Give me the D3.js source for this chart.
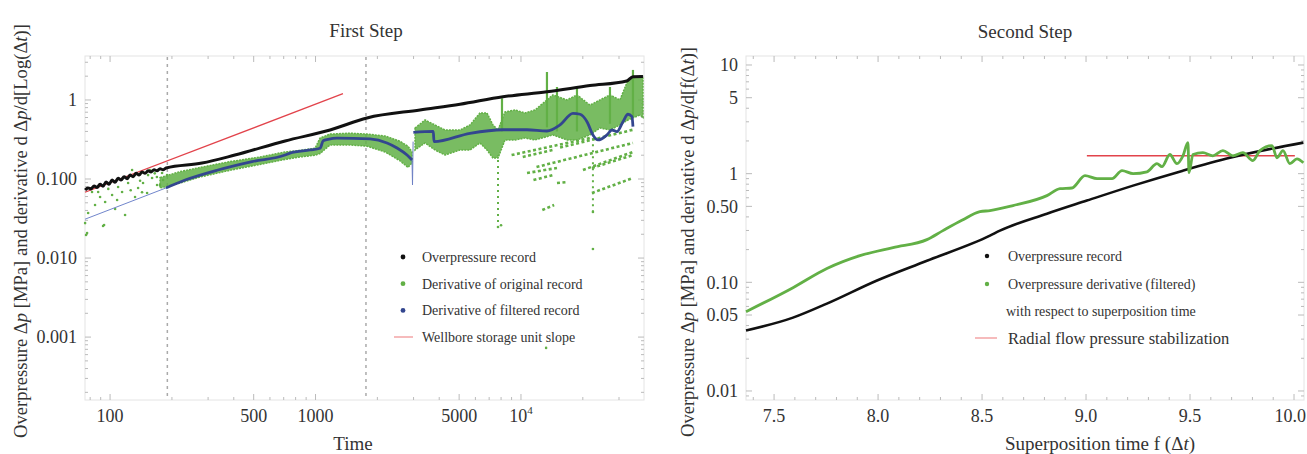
<!DOCTYPE html>
<html>
<head>
<meta charset="utf-8">
<script src="https://cdn.jsdelivr.net/npm/d3@7"></script>
<style>
body { margin: 0; background: #fff; }
text { font-family: "Liberation Serif", "Times New Roman", serif; fill: #333; }
</style>
</head>
<body>
<script>
// ---- First step (log-log diagnostic) ----
var blackRec = [[75.6,0.0726],[78.2,0.0769],[80.8,0.075],[83.6,0.0816],[86.4,0.078],[89.4,0.086],[92.4,0.081],
  [95.6,0.0916],[98.9,0.086],[102.3,0.0971],[105.8,0.091],[109.4,0.102],[113.1,0.097],[117,0.107],[121,0.101],
  [125.1,0.112],[129.4,0.107],[133.9,0.118],[138.4,0.112],[143.1,0.123],[148,0.118],[153.1,0.127],[158.3,0.123],
  [163.7,0.131],[169.3,0.127],[175.1,0.135],[181.1,0.131],[187.3,0.138],[280,0.159],[405,0.201],[711,0.303],
  [1177,0.417],[1781,0.592],[3225,0.747],[5050,0.882],[8170,1.10],[13380,1.27],[21670,1.52],[32700,1.74],
  [35080,1.97],[39240,1.98]];

var blueThin = [[75.5,0.031],[187,0.077]];
var blueSpike = [[2949,0.174],[2965,0.084],[2985,0.297]];
var blueThickA = [[187,0.077],[232,0.097],[335,0.130],[491,0.166],[711,0.201],[751,0.213],[940,0.233],
  [1052,0.245],[1090,0.305],[1150,0.318],[1272,0.330],[1841,0.321],[2228,0.286],[2493,0.247],[2789,0.201],[2949,0.174]];
var blueThickB = [[2993,0.39],[3742,0.40],[3773,0.297],[5647,0.379],[8170,0.42],[10690,0.42],[13380,0.405],
  [15480,0.483],[17910,0.678],[19380,0.66],[20960,0.531],[22400,0.361],[23710,0.312],[26200,0.361],[27710,0.417],
  [29320,0.397],[31360,0.531],[33170,0.66],[34690,0.615],[35080,0.459]];

var greenEarly = [[75.6,0.0277],[76.4,0.0196],[77.3,0.0207],[78.2,0.0372],[81.7,0.0685],[84.5,0.0469],[87.5,0.0685],
  [89.4,0.0592],[92.4,0.0254],[93.5,0.0262],[94.6,0.0511],[102.3,0.0627],[105.8,0.0417],[108.2,0.0542],[109.4,0.0792],
  [114.4,0.0685],[118.3,0.035],[122.4,0.089],[128,0.13],[132.3,0.0592],[136.9,0.0769],[143.1,0.068],[144.7,0.089],
  [151.4,0.0665],[153.1,0.112],[156.5,0.13],[160.1,0.103],[169,0.106],[169.3,0.0839],[175,0.0839],[179.1,0.119],
  [181.1,0.0971],[189.4,0.112],[98,0.075],[126,0.072],[140,0.095],[165,0.118]];
// [time, low, high] envelope of the dense cloud
var greenBandA = [[175,0.077,0.104],[219,0.089,0.124],[274,0.106,0.140],[384,0.129,0.166],[537,0.153,0.190],
  [711,0.177,0.220],[841,0.190,0.230],[995,0.200,0.245],[1052,0.210,0.330],[1177,0.270,0.370],[1472,0.270,0.380],
  [1781,0.260,0.370],[2179,0.220,0.350],[2578,0.170,0.300],[2819,0.140,0.260],[2949,0.160,0.220]];
var greenBandB = [[3050,0.233,0.442],[3411,0.286,0.558],[3815,0.233,0.483],[4267,0.201,0.417],[5050,0.233,0.417],
  [5647,0.233,0.483],[6317,0.286,0.685],[6831,0.233,0.685],[7307,0.184,0.483],[7730,0.184,0.417],[8358,0.312,0.705],
  [9350,0.312,0.747],[10460,0.33,0.685],[11700,0.312,0.747],[14310,0.361,1.16],[16740,0.312,1.0],[18730,0.312,1.16],
  [21670,0.361,0.86],[24230,0.442,1.0],[27110,0.417,1.16],[30300,0.483,1.0],[33170,0.558,1.79],[37940,0.646,2.0],
  [39240,0.6,1.9]];
var greenSpikes = [[8083,0.4,1.05],[13380,0.45,2.26],[14970,0.4,1.46],[18730,0.4,1.42],[27110,0.5,1.46],[35080,0.6,2.4]];
var greenColumns = [[7730,0.024,0.2],[22400,0.038,0.33]];
var greenStreaks = [[9000,0.201,21670,0.33],[10700,0.119,14970,0.138],[20030,0.13,35080,0.22],[22150,0.0665,35080,0.103],
  [12700,0.0405,14500,0.0469],[11900,0.142,35080,0.286],[10200,0.19,14300,0.233],[11500,0.097,14300,0.112],
  [14970,0.089,16500,0.091],[22150,0.138,35080,0.201],[15500,0.25,35080,0.42]];
var greenDots = [[7730,0.0247],[22400,0.013],[13250,0.00073],[22400,0.0382],[8000,0.026]];
var wellbore = [[75.5,0.068],[1360,1.2]];
var dashedTimes = [190, 1760];

var xTicks1 = [100, 500, 1000, 5000, 10000];
var xLabels1 = ["100", "500", "1000", "5000", "10^4"];
var yTicks1 = [0.001, 0.01, 0.1, 1];
var yLabels1 = ["0.001", "0.010", "0.100", "1"];

// ---- Second step (superposition time) ----
var blackSup = [[7.365,0.036],[7.591,0.0473],[7.754,0.0637],[7.995,0.104],[8.235,0.158],[8.538,0.269],[8.586,0.299],
  [8.812,0.428],[9.004,0.565],[9.226,0.776],[9.466,1.066],[9.692,1.40],[10.045,1.93]];
var greenSup = [[7.365,0.0537],[7.591,0.0893],[7.754,0.134],[7.913,0.176],[8.072,0.209],[8.235,0.247],[8.312,0.299],
  [8.403,0.372],[8.49,0.447],[8.538,0.457],[8.649,0.508],[8.812,0.628],[8.875,0.728],[8.932,0.738],[8.995,0.958],
  [9.053,0.90],[9.125,0.90],[9.173,1.066],[9.226,1.0],[9.293,1.04],[9.341,1.236],[9.365,1.16],[9.403,1.5],
  [9.437,1.236],[9.466,1.46],[9.490,1.93],[9.495,1.02],[9.514,1.5],[9.562,1.56],[9.610,1.46],[9.658,1.63],
  [9.706,1.46],[9.754,1.56],[9.802,1.32],[9.836,1.63],[9.894,1.81],[9.918,1.40],[9.947,1.63],[9.980,1.236],
  [10.014,1.37],[10.045,1.26]];
var radialFlow = [[9.004,1.46],[10.004,1.46]];

var xTicks2 = [7.5, 8, 8.5, 9, 9.5, 10];
var xLabels2 = ["7.5", "8.0", "8.5", "9.0", "9.5", "10.0"];
var yTicks2 = [0.01, 0.05, 0.1, 0.5, 1, 5, 10];
var yLabels2 = ["0.01", "0.05", "0.10", "0.50", "1", "5", "10"];

var GREEN = "#62b046", BLACK = "#111", BLUE = "#33468f", RED = "#e2434b";

var svg = d3.select("body").append("svg").attr("width", 1307).attr("height", 454);

function drawFrame(x, y, xMaj, xMin, yMaj, yMin) {
    var x0 = x.range()[0], x1 = x.range()[1], yb = y.range()[0], yt = y.range()[1];
    svg.append("rect").attr("x", x0).attr("y", yt).attr("width", x1 - x0).attr("height", yb - yt)
        .attr("fill", "none").attr("stroke", "#e4e4e4");
    var tk = svg.append("g").attr("stroke", "#bbb").attr("stroke-width", 1);
    function xt(list, len) {
        list.forEach(function(v) {
            var p = x(v);
            if (p < x0 || p > x1) return;
            tk.append("line").attr("x1", p).attr("x2", p).attr("y1", yb).attr("y2", yb - len);
            tk.append("line").attr("x1", p).attr("x2", p).attr("y1", yt).attr("y2", yt + len);
        });
    }
    function yt_(list, len) {
        list.forEach(function(v) {
            var p = y(v);
            if (p < yt || p > yb) return;
            tk.append("line").attr("y1", p).attr("y2", p).attr("x1", x0).attr("x2", x0 + len);
            tk.append("line").attr("y1", p).attr("y2", p).attr("x1", x1).attr("x2", x1 - len);
        });
    }
    xt(xMaj, 6); xt(xMin, 3); yt_(yMaj, 6); yt_(yMin, 3);
}

function xLabels(x, ticks, labels) {
    ticks.forEach(function(v, i) {
        var px = x(v), anchor = "middle";
        if (px > 1290) { px = 1306; anchor = "end"; }
        var t = svg.append("text").attr("x", px).attr("y", 422).attr("text-anchor", anchor)
            .style("font-size", "18px");
        if (labels[i] === "10^4") {
            t.append("tspan").text("10");
            t.append("tspan").attr("dy", -8).style("font-size", "11px").text("4");
        } else t.text(labels[i]);
    });
}

function yLabels(y, xr, ticks, labels) {
    ticks.forEach(function(v, i) {
        svg.append("text").attr("x", xr).attr("y", y(v)).attr("dy", "0.35em").attr("text-anchor", "end")
            .style("font-size", "18px").text(labels[i]);
    });
}

function yTitle(xpos, ycen, tail) {
    var t = svg.append("text").attr("transform", "translate(" + xpos + "," + ycen + ") rotate(-90)")
        .attr("text-anchor", "middle").style("font-size", "18.6px");
    t.append("tspan").text("Overpressure \u0394");
    t.append("tspan").style("font-style", "italic").text("p");
    t.append("tspan").text(" [MPa] and derivative d \u0394");
    t.append("tspan").style("font-style", "italic").text("p");
    t.append("tspan").text("/d[" + tail + "(\u0394");
    t.append("tspan").style("font-style", "italic").text("t");
    t.append("tspan").text(")]");
}

// ================= panel 1 =================
var x1 = d3.scaleLog().domain([75.5, 39700]).range([85, 644]);
var y1 = d3.scaleLog().domain([1.6e-4, 3.6]).range([400, 56]);

var minorX1 = x1.ticks().filter(function(v) { return xTicks1.indexOf(v) < 0; });
var minorY1 = y1.ticks().filter(function(v) { return yTicks1.indexOf(v) < 0; });
drawFrame(x1, y1, xTicks1, minorX1, yTicks1, minorY1);

svg.append("g").selectAll("line").data(dashedTimes).enter().append("line")
    .attr("x1", function(d) { return x1(d); }).attr("x2", function(d) { return x1(d); })
    .attr("y1", 57).attr("y2", 399).attr("stroke", "#aaa").attr("stroke-width", 1.5)
    .attr("stroke-dasharray", "3,4");

var p1 = svg.append("g");
var bandArea = d3.area().x(function(d) { return x1(d[0]); })
    .y0(function(d) { return y1(d[1]); }).y1(function(d) { return y1(d[2]); });
[greenBandA, greenBandB].forEach(function(b) {
    p1.append("path").datum(b).attr("d", bandArea).attr("fill", GREEN).attr("fill-opacity", 0.85)
        .attr("stroke", GREEN).attr("stroke-width", 1.5).attr("stroke-dasharray", "2,1");
});
p1.selectAll(".spk").data(greenSpikes).enter().append("line")
    .attr("x1", function(d) { return x1(d[0]); }).attr("x2", function(d) { return x1(d[0]); })
    .attr("y1", function(d) { return y1(d[1]); }).attr("y2", function(d) { return y1(d[2]); })
    .attr("stroke", GREEN).attr("stroke-width", 2.2);
p1.selectAll(".col").data(greenColumns).enter().append("line")
    .attr("x1", function(d) { return x1(d[0]); }).attr("x2", function(d) { return x1(d[0]); })
    .attr("y1", function(d) { return y1(d[1]); }).attr("y2", function(d) { return y1(d[2]); })
    .attr("stroke", GREEN).attr("stroke-width", 2).attr("stroke-dasharray", "2,4");
p1.selectAll(".stk").data(greenStreaks).enter().append("line")
    .attr("x1", function(d) { return x1(d[0]); }).attr("y1", function(d) { return y1(d[1]); })
    .attr("x2", function(d) { return x1(d[2]); }).attr("y2", function(d) { return y1(d[3]); })
    .attr("stroke", GREEN).attr("stroke-width", 2.6).attr("stroke-dasharray", "3,2.5");
p1.selectAll(".ge").data(greenEarly.concat(greenDots)).enter().append("circle")
    .attr("cx", function(d) { return x1(d[0]); }).attr("cy", function(d) { return y1(d[1]); })
    .attr("r", 1.3).attr("fill", GREEN);

var line1 = d3.line().x(function(d) { return x1(d[0]); }).y(function(d) { return y1(d[1]); });
p1.append("path").datum(wellbore).attr("d", line1).attr("fill", "none").attr("stroke", RED).attr("stroke-width", 1.3);
p1.append("path").datum(blueThin).attr("d", line1).attr("fill", "none").attr("stroke", "#7186cc").attr("stroke-width", 1);
p1.append("path").datum(blueSpike).attr("d", line1).attr("fill", "none").attr("stroke", "#6d80c4").attr("stroke-width", 1);
var smooth1 = d3.line().x(function(d) { return x1(d[0]); }).y(function(d) { return y1(d[1]); }).curve(d3.curveMonotoneX);
[blueThickA, blueThickB].forEach(function(b) {
    p1.append("path").datum(b).attr("d", smooth1).attr("fill", "none")
        .attr("stroke", BLUE).attr("stroke-width", 2.8);
});
p1.append("path").datum(blackRec).attr("d", smooth1).attr("fill", "none").attr("stroke", BLACK)
    .attr("stroke-width", 3).attr("stroke-linejoin", "round");

xLabels(x1, xTicks1, xLabels1);
yLabels(y1, 77, yTicks1, yLabels1);
svg.append("text").attr("x", 366).attr("y", 37).attr("text-anchor", "middle").style("font-size", "19px").text("First Step");
svg.append("text").attr("x", 353).attr("y", 450).attr("text-anchor", "middle").style("font-size", "19px").text("Time");
yTitle(27, 231, "Log");

// legend 1
var leg1 = [["Overpressure record", BLACK], ["Derivative of original record", GREEN], ["Derivative of filtered record", BLUE]];
leg1.forEach(function(d, i) {
    var yy = 257 + i * 26.7;
    svg.append("circle").attr("cx", 403).attr("cy", yy).attr("r", 2.4).attr("fill", d[1]);
    svg.append("text").attr("x", 422).attr("y", yy).attr("dy", "0.35em").style("font-size", "14px").text(d[0]);
});
svg.append("line").attr("x1", 394).attr("x2", 413).attr("y1", 337).attr("y2", 337).attr("stroke", "#f3a4a6").attr("stroke-width", 1.5);
svg.append("text").attr("x", 422).attr("y", 337).attr("dy", "0.35em").style("font-size", "14px").text("Wellbore storage unit slope");

// ================= panel 2 =================
var x2 = d3.scaleLinear().domain([7.365, 10.048]).range([746, 1304]);
var y2 = d3.scaleLog().domain([0.00826, 12.1]).range([400, 56]);
var minorX2 = x2.ticks(30).filter(function(v) { return Math.abs(v * 2 - Math.round(v * 2)) > 1e-6; });
var minorY2 = y2.ticks().filter(function(v) { return yTicks2.indexOf(v) < 0; });
drawFrame(x2, y2, xTicks2, minorX2, yTicks2, minorY2);

var line2 = d3.line().x(function(d) { return x2(d[0]); }).y(function(d) { return y2(d[1]); }).curve(d3.curveMonotoneX);
svg.append("path").datum(radialFlow).attr("d", line2).attr("fill", "none").attr("stroke", RED).attr("stroke-width", 1.6);
svg.append("path").datum(blackSup).attr("d", line2).attr("fill", "none").attr("stroke", BLACK).attr("stroke-width", 2.6);
svg.append("path").datum(greenSup).attr("d", line2).attr("fill", "none").attr("stroke", GREEN)
    .attr("stroke-width", 2.8).attr("stroke-linejoin", "round");

xLabels(x2, xTicks2, xLabels2);
yLabels(y2, 738, yTicks2, yLabels2);
svg.append("text").attr("x", 1025).attr("y", 38).attr("text-anchor", "middle").style("font-size", "19px").text("Second Step");
var xl2 = svg.append("text").attr("x", 1100).attr("y", 450).attr("text-anchor", "middle").style("font-size", "19px");
xl2.append("tspan").text("Superposition time f (\u0394");
xl2.append("tspan").style("font-style", "italic").text("t");
xl2.append("tspan").text(")");
yTitle(694, 242, "f");

// legend 2
svg.append("circle").attr("cx", 987).attr("cy", 256).attr("r", 2.2).attr("fill", BLACK);
svg.append("text").attr("x", 1008).attr("y", 256).attr("dy", "0.35em").style("font-size", "14px").text("Overpressure record");
svg.append("circle").attr("cx", 987).attr("cy", 284).attr("r", 2.2).attr("fill", GREEN);
svg.append("text").attr("x", 1008).attr("y", 284).attr("dy", "0.35em").style("font-size", "14px").text("Overpressure derivative (filtered)");
svg.append("text").attr("x", 1006).attr("y", 311).attr("dy", "0.35em").style("font-size", "14px").text("with respect to superposition time");
svg.append("line").attr("x1", 975).attr("x2", 997).attr("y1", 338).attr("y2", 338).attr("stroke", "#f3a4a6").attr("stroke-width", 1.5);
svg.append("text").attr("x", 1008).attr("y", 338).attr("dy", "0.35em").style("font-size", "16.5px").text("Radial flow pressure stabilization");
</script>
</body>
</html>
